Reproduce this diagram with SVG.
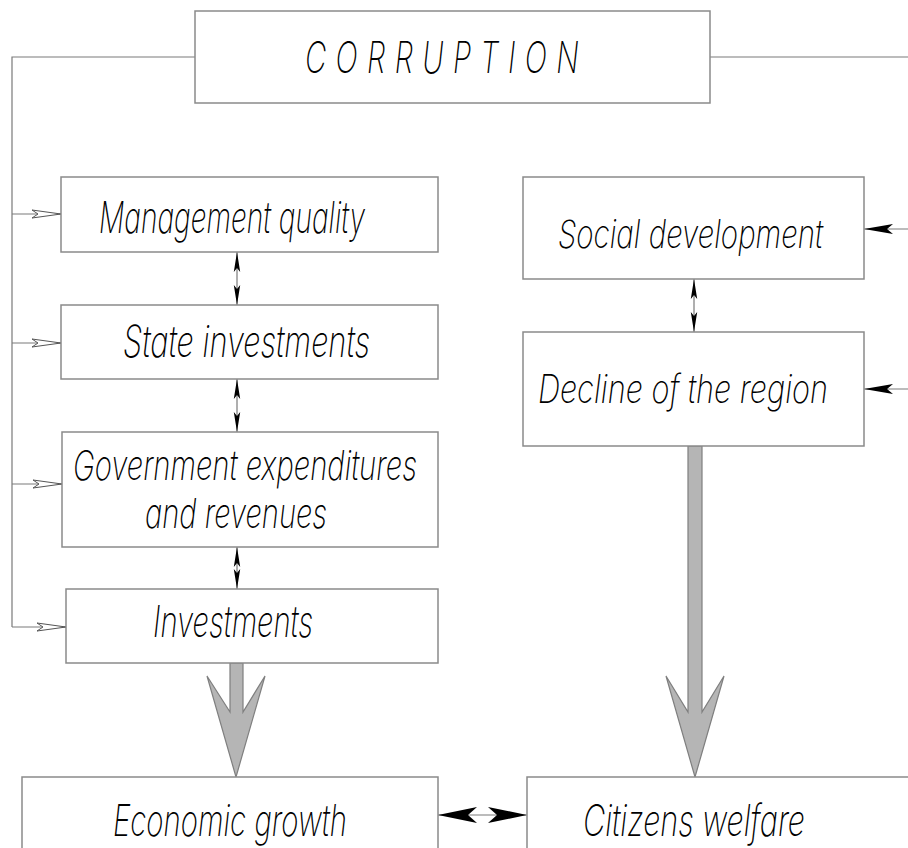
<svg xmlns="http://www.w3.org/2000/svg" width="908" height="848" viewBox="0 0 908 848">
<style>
.box{fill:#fff;stroke:#8a8a8a;stroke-width:1.5}
.ln{fill:none;stroke:#7a7a7a;stroke-width:1.2}
.fat{fill:#b5b5b5;stroke:#7f7f7f;stroke-width:1.2;stroke-linejoin:miter}
.t{font-family:Inter,Lato,"DejaVu Sans",sans-serif;font-weight:200;font-style:italic;font-size:44px;fill:#000}
.s{font-size:41px}
.r{font-size:39px}
</style>
<defs>
<marker id="open" markerUnits="userSpaceOnUse" markerWidth="32" markerHeight="12" viewBox="-1 -6 32 12" refX="29" refY="0" orient="auto">
<path d="M0,-4 L29,0 L0,4 L6,0 Z" fill="#fff" stroke="#555" stroke-width="1"/>
</marker>
<marker id="solid" markerUnits="userSpaceOnUse" markerWidth="32" markerHeight="14" viewBox="0 -7 32 14" refX="29" refY="0" orient="auto">
<path d="M0,-5 L29,0 L0,5 L6,0 Z" fill="#000"/>
</marker>
<marker id="small" markerUnits="userSpaceOnUse" markerWidth="22" markerHeight="10" viewBox="0 -5 22 10" refX="20" refY="0" orient="auto-start-reverse">
<path d="M0,-3.2 L20,0 L0,3.2 L4,0 Z" fill="#000"/>
</marker>
<marker id="big" markerUnits="userSpaceOnUse" markerWidth="42" markerHeight="20" viewBox="0 -10 42 20" refX="39" refY="0" orient="auto-start-reverse">
<path d="M0,-8 L39,0 L0,8 L9,0 Z" fill="#000"/>
</marker>
</defs>

<g id="connectors">
<path class="ln" d="M195,57 H12 V627"/>
<path class="ln" d="M710,57 H908"/>
<path class="ln" d="M12,214 H61" marker-end="url(#open)"/>
<path class="ln" d="M12,343 H61" marker-end="url(#open)"/>
<path class="ln" d="M12,484 H62" marker-end="url(#open)"/>
<path class="ln" d="M12,627 H66" marker-end="url(#open)"/>
<path class="ln" d="M908,229 H864" marker-end="url(#solid)"/>
<path class="ln" d="M908,389 H864" marker-end="url(#solid)"/>
<path class="ln" d="M237,252 V305" marker-start="url(#small)" marker-end="url(#small)"/>
<path class="ln" d="M237,379 V432" marker-start="url(#small)" marker-end="url(#small)"/>
<path class="ln" d="M237,547 V589" marker-start="url(#small)" marker-end="url(#small)"/>
<path class="ln" d="M694,279 V332" marker-start="url(#small)" marker-end="url(#small)"/>
<path class="ln" d="M438,815 H527" marker-start="url(#big)" marker-end="url(#big)"/>
<path class="fat" d="M230,663 V712 L207,676 L236,777 L265,676 L243,712 V663 Z"/>
<path class="fat" d="M688,446 V712 L666,676 L695,777 L724,676 L702,712 V446 Z"/>
</g>

<g id="corruption">
<rect class="box" x="195" y="11" width="515" height="92"/>
<text class="t" x="305" y="73" letter-spacing="14" textLength="283" lengthAdjust="spacingAndGlyphs">CORRUPTION</text>
</g>
<g id="management-quality">
<rect class="box" x="61" y="177" width="377" height="75"/>
<text class="t" x="99" y="233" textLength="266" lengthAdjust="spacingAndGlyphs">Management quality</text>
</g>
<g id="state-investments">
<rect class="box" x="61" y="305" width="377" height="74"/>
<text class="t" x="123" y="357" textLength="247" lengthAdjust="spacingAndGlyphs">State investments</text>
</g>
<g id="government-expenditures">
<rect class="box" x="62" y="432" width="376" height="115"/>
<text class="t s" x="73" y="480" textLength="344" lengthAdjust="spacingAndGlyphs">Government expenditures</text>
<text class="t s" x="145" y="528" textLength="182" lengthAdjust="spacingAndGlyphs">and revenues</text>
</g>
<g id="investments">
<rect class="box" x="66" y="589" width="372" height="74"/>
<text class="t" x="153" y="637" textLength="160" lengthAdjust="spacingAndGlyphs">Investments</text>
</g>
<g id="social-development">
<rect class="box" x="523" y="177" width="341" height="102"/>
<text class="t r" x="558" y="248" textLength="265" lengthAdjust="spacingAndGlyphs">Social development</text>
</g>
<g id="decline-of-the-region">
<rect class="box" x="523" y="332" width="341" height="114"/>
<text class="t r" x="538" y="403" textLength="290" lengthAdjust="spacingAndGlyphs">Decline of the region</text>
</g>
<g id="economic-growth">
<rect class="box" x="22" y="777" width="416" height="90"/>
<text class="t" x="113" y="836" textLength="234" lengthAdjust="spacingAndGlyphs">Economic growth</text>
</g>
<g id="citizens-welfare">
<rect class="box" x="527" y="777" width="400" height="90"/>
<text class="t" x="583" y="836" textLength="222" lengthAdjust="spacingAndGlyphs">Citizens welfare</text>
</g>
</svg>
